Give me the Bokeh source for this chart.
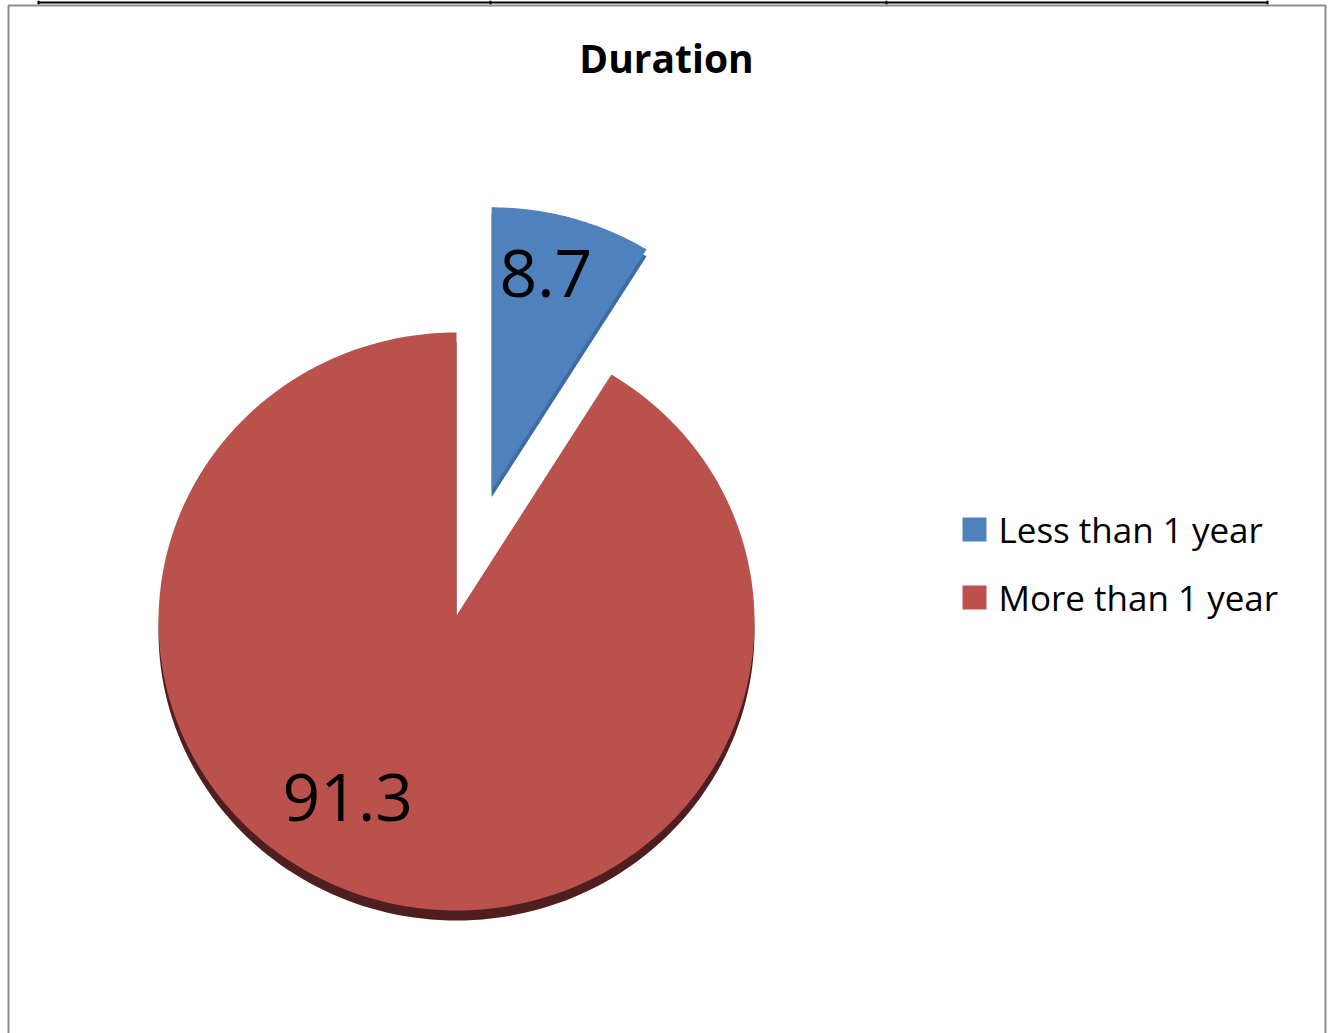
import numpy as np
from bokeh.plotting import figure
from bokeh.models import Range1d
from bokeh.core.properties import value
from bokeh.embed import file_html
from bokeh.resources import INLINE

# Chart data
title = "Duration"
categories = ["Less than 1 year", "More than 1 year"]
values = [8.7, 91.3]
face_colors = ["#4F81BD", "#BB514D"]
side_colors = ["#3F6CA3", "#4E1F1E"]
legend_colors = ["#4F81BD", "#C0504D"]

W, H = 1328, 1033
FONT = value("Open Sans")

p = figure(width=W, height=H, x_range=Range1d(0, W), y_range=Range1d(H, 0),
           min_border=0, outline_line_color=None, toolbar_location=None,
           output_backend="svg", background_fill_color="white",
           border_fill_color="white")
p.axis.visible = False
p.grid.visible = False

# table rule above the chart frame
p.segment(x0=[38], y0=[2], x1=[1267], y1=[2], line_color="black", line_width=2)
p.segment(x0=[38, 490, 886, 1267], y0=[0] * 4, x1=[38, 490, 886, 1267], y1=[4] * 4,
          line_color="black", line_width=2)

# chart frame
p.quad(left=[8], right=[1325], top=[5], bottom=[1040], fill_color=None,
       line_color="#8C8C8C", line_width=2)

# pie geometry (screen-like coordinates, y grows downwards)
vx, vy = 456.0, 615.0      # common apex of the slices
cx, cy = 456.0, 621.0      # centre of the elliptical rim
rx, ry = 298.0, 289.0
explode = [130.0, 0.0]
depth = [7.0, 10.0]

total = float(sum(values))
bounds = np.concatenate([[0.0], np.cumsum(values)]) / total * 2 * np.pi


def wedge(a0, a1, ox, oy):
    t = np.linspace(a0, a1, 200)
    xs = np.concatenate([[vx + ox], cx + ox + rx * np.sin(t)])
    ys = np.concatenate([[vy + oy], cy + oy - ry * np.cos(t)])
    return list(xs), list(ys)


faces_x, faces_y, sides_x, sides_y = [], [], [], []
for i in range(len(values)):
    a0, a1 = bounds[i], bounds[i + 1]
    mid = 0.5 * (a0 + a1)
    ox, oy = explode[i] * np.sin(mid), -explode[i] * np.cos(mid)
    fx, fy = wedge(a0, a1, ox, oy)
    sx, sy = wedge(a0, a1, ox, oy + depth[i])
    faces_x.append(fx); faces_y.append(fy)
    sides_x.append(sx); sides_y.append(sy)

# thickness of each slice, then the top faces
p.patches(sides_x, sides_y, fill_color=side_colors, line_color=None)
p.patches(faces_x, faces_y, fill_color=face_colors, line_color=None)


def put_text(xs, ys, texts, size, **kw):
    # place by baseline: shift the anchor up by the font's descent share
    shift = 0.38 * size
    p.text(x=xs, y=[y - shift for y in ys], text=texts, text_font=FONT,
           text_font_size=f"{size}px", text_baseline="alphabetic",
           text_color="black", **kw)


# value labels
label_pos = [(499, 298), (282, 822)]
for (lx, ly), v in zip(label_pos, values):
    put_text([lx], [ly], [f"{v}"], 66, text_align="left")

# title
put_text([666], [72], [title], 39, text_align="center", text_font_style="bold")

# legend
leg_y = [529, 597]
p.rect(x=[974] * 2, y=leg_y, width=24, height=24, fill_color=legend_colors,
       line_color=None)
put_text([998] * 2, [y + 13 for y in leg_y], categories, 35, text_align="left")

open("out.html", "w").write(file_html(p, INLINE))
